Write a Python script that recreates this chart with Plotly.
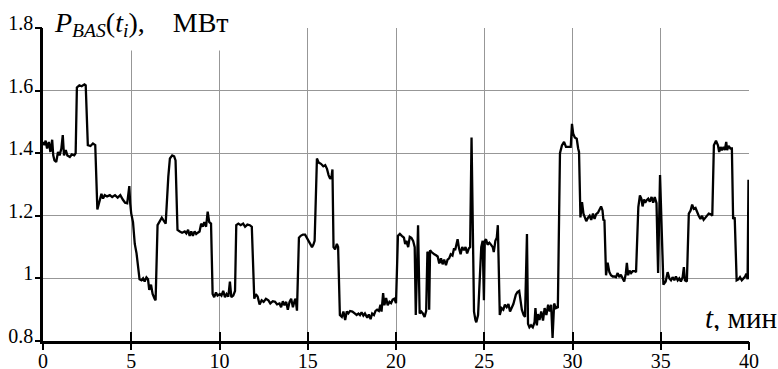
import plotly.graph_objects as go

# time, min
t = [0, 0.08, 0.15, 0.23, 0.33, 0.42, 0.52, 0.58, 0.65, 0.75, 0.85, 0.94, 1.04, 1.12, 1.19, 1.29, 1.38, 1.52, 1.63, 1.77, 1.85,
     1.92, 2.06, 2.19, 2.35, 2.42, 2.54, 2.69, 2.83, 2.96, 3.08, 3.21, 3.31, 3.40, 3.50, 3.63, 3.79, 3.92, 4.08, 4.23, 4.38,
     4.52, 4.65, 4.77, 4.89, 4.94, 5.0, 5.1, 5.2, 5.3, 5.4, 5.47, 5.58, 5.67, 5.76, 5.86, 5.95, 6.02, 6.12, 6.21, 6.32, 6.38,
     6.49, 6.64, 6.73, 6.82, 6.95, 7.1, 7.19, 7.32, 7.43, 7.51, 7.62, 7.75, 7.88, 8.03, 8.12, 8.22, 8.31, 8.4, 8.49, 8.59,
     8.68, 8.77, 8.87, 8.96, 9.05, 9.14, 9.24, 9.33, 9.42, 9.52, 9.61, 9.7, 9.8, 9.89, 10.02, 10.11, 10.21, 10.31, 10.4, 10.5,
     10.59, 10.67, 10.78, 10.88, 10.95, 11.07, 11.2, 11.34, 11.45, 11.58, 11.72, 11.83, 11.97, 12.06, 12.16, 12.27, 12.39,
     12.5, 12.63, 12.77, 12.88, 13.02, 13.15, 13.26, 13.4, 13.49, 13.59, 13.68, 13.78, 13.87, 13.97, 14.06, 14.16, 14.26,
     14.31, 14.39, 14.5, 14.6, 14.73, 14.85, 14.95, 15.06, 15.17, 15.24, 15.32, 15.39, 15.52, 15.62, 15.75, 15.88, 15.99,
     16.09, 16.18, 16.27, 16.35, 16.4, 16.46, 16.55, 16.65, 16.72, 16.82, 16.93, 17.02, 17.12, 17.21, 17.3, 17.4, 17.53,
     17.66, 17.77, 17.87, 17.96, 18.05, 18.15, 18.24, 18.37, 18.46, 18.56, 18.65, 18.75, 18.84, 18.93, 19.03, 19.12, 19.18,
     19.27, 19.34, 19.44, 19.53, 19.63, 19.72, 19.81, 19.91, 20.0, 20.11, 20.22, 20.33, 20.45, 20.52, 20.59, 20.69, 20.78,
     20.87, 20.97, 21.06, 21.12, 21.25, 21.34, 21.43, 21.52, 21.62, 21.71, 21.78, 21.84, 21.88, 21.93, 22.0, 22.08, 22.17,
     22.27, 22.36, 22.45, 22.55, 22.64, 22.73, 22.83, 22.92, 23.01, 23.1, 23.2, 23.29, 23.35, 23.42, 23.49, 23.57, 23.66,
     23.75, 23.85, 23.94, 24.03, 24.13, 24.2, 24.28, 24.42, 24.5, 24.55, 24.65, 24.74, 24.83, 24.91, 24.98, 25.03, 25.1,
     25.19, 25.29, 25.38, 25.48, 25.54, 25.63, 25.71, 25.77, 25.88, 25.98, 26.08, 26.17, 26.27, 26.37, 26.46, 26.56, 26.65,
     26.79, 26.88, 26.98, 27.08, 27.13, 27.23, 27.31, 27.42, 27.48, 27.56, 27.65, 27.75, 27.85, 27.9, 27.98, 28.04, 28.13,
     28.23, 28.33, 28.42, 28.52, 28.62, 28.71, 28.79, 28.87, 28.96, 29.06, 29.17, 29.29, 29.4, 29.52, 29.63, 29.77, 29.9,
     29.97, 30.04, 30.13, 30.24, 30.32, 30.37, 30.45, 30.54, 30.62, 30.69, 30.78, 30.88, 30.97, 31.06, 31.16, 31.25, 31.34,
     31.44, 31.53, 31.62, 31.7, 31.75, 31.81, 31.9, 31.99, 32.09, 32.18, 32.28, 32.37, 32.46, 32.56, 32.65, 32.74, 32.84,
     32.93, 33.02, 33.08, 33.15, 33.23, 33.32, 33.41, 33.53, 33.6, 33.73, 33.82, 33.9, 33.97, 34.05, 34.12, 34.2, 34.29,
     34.38, 34.48, 34.57, 34.66, 34.76, 34.85, 34.96, 35.15, 35.28, 35.39, 35.49, 35.58, 35.67, 35.77, 35.86, 35.96, 36.05,
     36.14, 36.24, 36.31, 36.37, 36.48, 36.59, 36.69, 36.78, 36.87, 36.97, 37.06, 37.15, 37.25, 37.34, 37.43, 37.53, 37.62,
     37.72, 37.83, 37.92, 38.01, 38.13, 38.24, 38.31, 38.39, 38.46, 38.56, 38.63, 38.71, 38.76, 38.84, 38.95, 39.03, 39.1,
     39.19, 39.3, 39.4, 39.49, 39.59, 39.68, 39.78, 39.85, 39.92, 39.97, 40.0]

# P_BAS, MW
p = [1.436, 1.426, 1.44, 1.415, 1.436, 1.404, 1.443, 1.393, 1.377, 1.372, 1.404, 1.393, 1.415, 1.458, 1.393, 1.41, 1.393,
     1.388, 1.396, 1.393, 1.40,
     1.61, 1.617, 1.614, 1.62, 1.617, 1.426, 1.423, 1.431, 1.426, 1.22, 1.25, 1.27, 1.255, 1.266, 1.262, 1.266, 1.26, 1.266,
     1.258, 1.266,
     1.252, 1.242, 1.24, 1.295, 1.24, 1.207, 1.18, 1.11, 1.08, 1.037, 0.997, 0.994, 1.0, 0.99, 1.003, 0.997, 0.963, 0.98,
     0.95, 0.935, 0.93,
     1.17, 1.186, 1.194, 1.186, 1.175, 1.325, 1.383, 1.393, 1.39, 1.377, 1.155, 1.15, 1.146, 1.15, 1.144, 1.155, 1.136, 1.15,
     1.136, 1.15,
     1.142, 1.146, 1.15, 1.175, 1.165, 1.18, 1.165, 1.213, 1.18, 1.175, 0.95, 0.94, 0.955, 0.945, 0.95, 0.945, 0.96, 0.94,
     0.95, 0.942,
     0.99, 0.94, 0.945, 0.96, 1.17, 1.175, 1.17, 1.175, 1.165, 1.172, 1.17, 1.165, 0.935, 0.95, 0.942, 0.917, 0.93,
     0.925, 0.935, 0.93, 0.92, 0.927, 0.925, 0.917, 0.92, 0.908, 0.927, 0.914, 0.925, 0.90, 0.925, 0.935, 0.908, 0.93,
     0.935, 0.897, 1.13, 1.136, 1.14, 1.14, 1.13, 1.12, 1.11, 1.10, 1.108, 1.12, 1.383, 1.37, 1.366, 1.358, 1.362,
     1.35, 1.33, 1.318, 1.326, 1.348, 1.10, 1.093, 1.11, 1.10, 0.883, 0.877, 0.894, 0.867, 0.894, 0.888, 0.896, 0.894,
     0.888, 0.883, 0.888, 0.883, 0.892, 0.881, 0.888, 0.874, 0.885, 0.87, 0.888, 0.883, 0.896, 0.90, 0.896, 0.916, 0.894,
     0.953, 0.914, 0.937, 0.914, 0.925, 0.921, 0.932, 0.935, 0.921, 1.136, 1.142, 1.136, 1.13, 1.11, 1.12, 1.10, 1.133,
     1.13, 1.12, 1.10, 0.883, 1.17, 0.888, 0.894, 0.888, 0.877, 0.896, 1.085, 1.08, 0.90, 1.09, 1.085, 1.08, 1.077,
     1.074, 1.07, 1.048, 1.064, 1.045, 1.06, 1.042, 1.06, 1.064, 1.077, 1.073, 1.096, 1.09, 1.11, 1.125, 1.096, 1.077,
     1.10, 1.09, 1.10, 1.08, 1.096, 1.10, 1.45, 0.894, 0.867, 0.86, 0.883, 0.98, 1.10, 1.12, 0.93, 1.12, 1.125,
     1.108, 1.114, 1.108, 1.10, 1.084, 1.12, 1.13, 1.17, 0.883, 0.905, 0.90, 0.916, 0.908, 0.918, 0.894, 0.905, 0.918,
     0.948, 0.956, 0.96, 0.925, 0.90, 0.883, 0.877, 1.142, 0.855, 0.844, 0.85, 0.844, 0.86, 0.905, 0.85, 0.886, 0.867,
     0.894, 0.865, 0.905, 0.883, 0.916, 0.894, 0.916, 0.81, 0.92, 0.905, 0.908, 1.40, 1.425, 1.436, 1.42, 1.42, 1.42,
     1.494, 1.462, 1.45, 1.446, 1.415, 1.404, 1.195, 1.244, 1.207, 1.195, 1.183, 1.194, 1.20, 1.187, 1.207, 1.19, 1.205,
     1.21, 1.222, 1.23, 1.217, 1.187, 1.185, 1.01, 1.05, 1.02, 1.01, 1.006, 1.006, 1.004, 1.017, 1.004, 1.012, 1.0,
     0.99, 1.015, 1.05, 1.01, 1.025, 1.017, 1.023, 1.023, 1.02, 1.228, 1.265, 1.255, 1.23, 1.252, 1.242, 1.25, 1.255,
     1.245, 1.26, 1.242, 1.26, 1.24, 1.017, 1.33, 0.98, 0.99, 1.02, 1.0, 0.994, 1.004, 0.994, 1.006, 0.994, 1.0,
     0.99, 1.004, 1.036, 0.994, 0.99, 1.207, 1.217, 1.236, 1.222, 1.225, 1.21, 1.20, 1.19, 1.20, 1.187, 1.194, 1.20,
     1.207, 1.205, 1.20, 1.425, 1.44, 1.425, 1.404, 1.42, 1.41, 1.42, 1.41, 1.436, 1.41, 1.423, 1.415, 1.415, 1.19,
     1.195, 0.994, 0.997, 1.004, 0.994, 1.0, 1.006, 1.015, 0.997, 1.315, 0.997]

x_ticks = [0, 5, 10, 15, 20, 25, 30, 35, 40]
y_ticks = [0.8, 1.0, 1.2, 1.4, 1.6, 1.8]
y_tick_text = ["0.8", "1", "1.2", "1.4", "1.6", "1.8"]

FONT = "Liberation Serif"
GRID = "#979797"
NB = "\u00a0"

fig = go.Figure()
fig.add_trace(go.Scatter(x=t, y=p, mode="lines", line=dict(color="black", width=2.3), hoverinfo="skip"))
# empty helper traces so the tick-only overlay axes get drawn
fig.add_trace(go.Scatter(x=[None], y=[None], xaxis="x2", yaxis="y", showlegend=False))
fig.add_trace(go.Scatter(x=[None], y=[None], xaxis="x", yaxis="y2", showlegend=False))
fig.add_trace(go.Scatter(x=[None], y=[None], xaxis="x", yaxis="y3", showlegend=False))

fig.update_layout(
    width=778, height=369,
    margin=dict(l=43, r=29, t=28, b=28, autoexpand=False),
    paper_bgcolor="white", plot_bgcolor="white",
    showlegend=False,
    font=dict(family=FONT, color="black", size=20),
    # main x axis: labels, grid, inside half of ticks
    xaxis=dict(range=[0, 40], tickmode="array", tickvals=x_ticks, automargin=False,
               showgrid=True, gridcolor=GRID, gridwidth=1, zeroline=False,
               showline=True, linecolor="black", linewidth=2.5,
               ticks="inside", ticklen=9, tickwidth=2, tickcolor="black",
               tickfont=dict(family=FONT, size=20, color="black")),
    # overlay x axis: outside half of ticks
    xaxis2=dict(range=[0, 40], overlaying="x", anchor="y", side="bottom", automargin=False,
                tickmode="array", tickvals=x_ticks, ticks="outside", ticklen=8,
                tickwidth=2, tickcolor="black", showticklabels=False,
                showgrid=False, zeroline=False, showline=False),
    yaxis=dict(range=[0.8, 1.8], tickmode="array", tickvals=y_ticks, ticktext=y_tick_text,
               automargin=False,
               showgrid=True, gridcolor=GRID, gridwidth=1, zeroline=False,
               showline=True, linecolor="black", linewidth=2.5,
               ticks="outside", ticklen=3, tickwidth=2, tickcolor="black",
               ticklabelshift=-5,
               tickfont=dict(family=FONT, size=20, color="black")),
    yaxis2=dict(range=[0.8, 1.8], overlaying="y", anchor="x", side="left", automargin=False,
                tickmode="array", tickvals=y_ticks, ticks="outside", ticklen=7,
                tickwidth=2, tickcolor="black", showticklabels=False,
                showgrid=False, zeroline=False, showline=False),
    yaxis3=dict(range=[0.8, 1.8], overlaying="y", anchor="x", side="left", automargin=False,
                tickmode="array", tickvals=[1.8], ticks="inside", ticklen=6,
                tickwidth=2, tickcolor="black", showticklabels=False,
                showgrid=False, zeroline=False, showline=False),
)

# y-axis caption, white box hides the grid behind it
fig.add_annotation(
    xref="paper", yref="paper", x=(47 - 43) / 706, y=(340.5 - 51) / 312.5,
    xanchor="left", yanchor="bottom", showarrow=False,
    text=NB + "<i>P</i><sub><i>BAS</i></sub>(<i>t</i><sub><i>i</i></sub>)," + NB * 4 + "МВт",
    font=dict(family=FONT, size=28, color="black"),
    bgcolor="white", borderpad=0, width=198, height=52, align="left", valign="middle",
)
# x-axis caption
fig.add_annotation(
    xref="paper", yref="paper", x=(778 - 43) / 706, y=(340.5 - 332) / 312.5,
    xanchor="right", yanchor="bottom", showarrow=False,
    text="<i>t</i>," + NB + "мин",
    font=dict(family=FONT, size=29, color="black"),
    bgcolor="white", borderpad=0, width=86, height=26, align="right", valign="middle",
)

fig.write_html("out.html")
